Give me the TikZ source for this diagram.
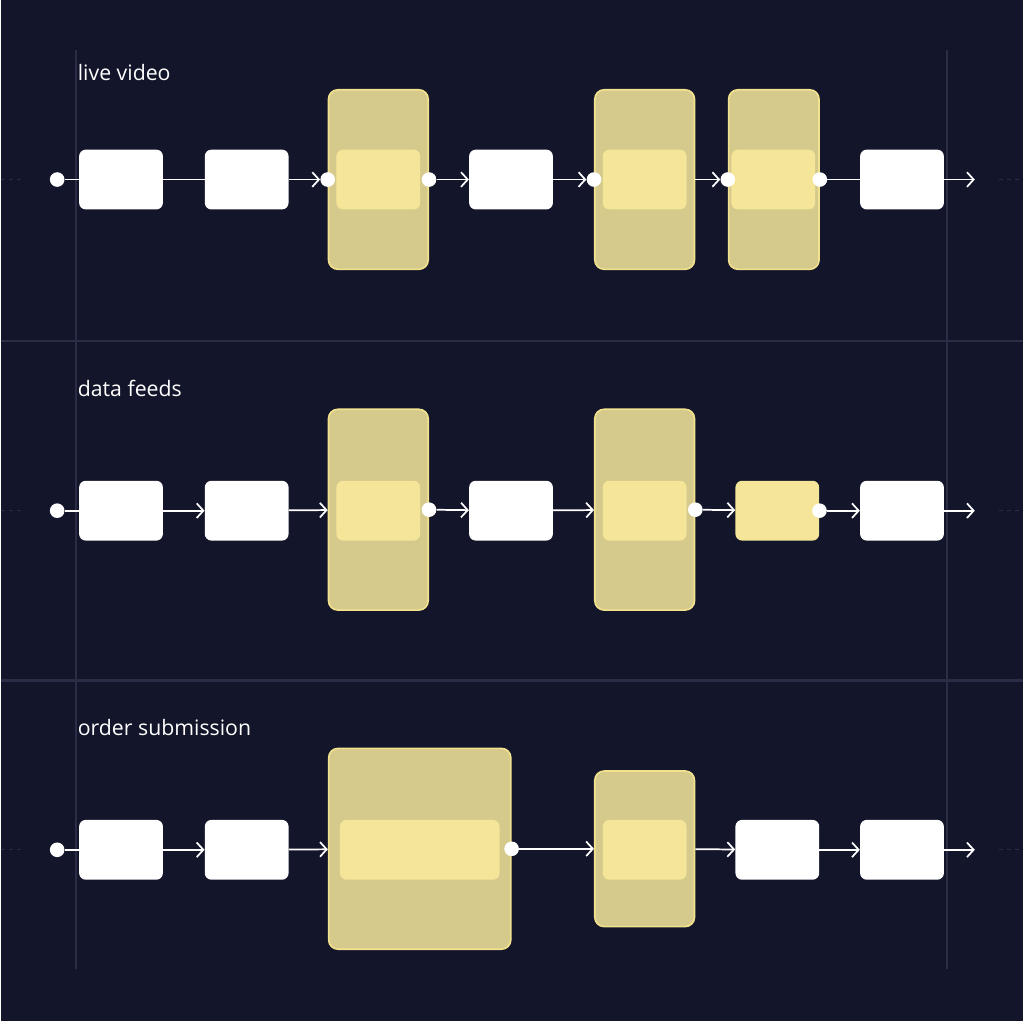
\documentclass[tikz,border=0pt]{standalone}
\usepackage{fontspec}
\setmainfont{Open Sans}
\usetikzlibrary{arrows.meta}
\definecolor{night}{HTML}{13152A}
\definecolor{rule}{HTML}{2A2D45}
\definecolor{sand}{HTML}{D5CA8C}
\definecolor{sandline}{HTML}{F2E28E}
\definecolor{butter}{HTML}{F4E598}
\tikzset{
    wbox/.style={fill=white, rounded corners=5pt, minimum width=63pt, minimum height=45pt, inner sep=0pt},
    ybox/.style={wbox, fill=butter},
    wrap/.style={fill=sand, draw=sandline, line width=1.2pt, rounded corners=7pt, inner sep=0pt},
    dot/.style={circle, fill=white, minimum size=11pt, inner sep=0pt},
    flow/.style={white, line width=1.3pt, -{Straight Barb[length=5pt,width=11pt]}},
    plain/.style={white, line width=1.3pt},
    lane/.style={white, font=\fontsize{16}{19}\selectfont, anchor=west}
}
\begin{document}
\begin{tikzpicture}[x=0.75pt,y=-0.75pt]
    \fill[night] (0,0) rectangle (1024,1024);
    % lanes and guides
    \draw[rule, line width=2pt] (0,342) -- (1024,342) (0,682) -- (1024,682);
    \draw[rule, line width=1pt] (75,50) -- (75,972) (948,50) -- (948,972);
    \foreach \y in {180,512,852} {
        \draw[rule, dashed, line width=1pt] (0,\y) -- (22,\y) (1000,\y) -- (1024,\y);
    }
    \node[lane] (lbl1) at (72,73) {live video};
    \node[lane] (lbl2) at (72,389) {data feeds};
    \node[lane] (lbl3) at (72,729) {order submission};

    % live video
    \node[wrap, minimum width=75pt, minimum height=135pt] (aw1) at (378,180) {};
    \node[wrap, minimum width=75pt, minimum height=135pt] (aw2) at (645,180) {};
    \node[wrap, minimum width=68pt, minimum height=135pt] (aw3) at (774.5,180) {};
    \node[wbox] (a1) at (120,180) {};
    \node[wbox] (a2) at (246,180) {};
    \node[ybox] (a3) at (378,180) {};
    \node[wbox] (a4) at (511,180) {};
    \node[ybox] (a5) at (645,180) {};
    \node[ybox] (a6) at (774,180) {};
    \node[wbox] (a7) at (903,180) {};
    \coordinate (aend) at (976,180);
    \node[dot] (ad0) at (56,180) {};
    \node[dot] (ad1) at (aw1.west) {};
    \node[dot] (ad2) at (aw1.east) {};
    \node[dot] (ad3) at (aw2.west) {};
    \node[dot] (ad4) at (aw3.west) {};
    \node[dot] (ad5) at (aw3.east) {};
    \draw[plain] (ad0) -- (a1);
    \draw[plain] (a1) -- (a2);
    \draw[flow] (a2) -- (ad1);
    \draw[flow] (ad2) -- (a4);
    \draw[flow] (a4) -- (ad3);
    \draw[flow] (aw2) -- (ad4);
    \draw[plain] (ad5) -- (a7);
    \draw[flow] (a7) -- (aend);

    % data feeds
    \node[wrap, minimum width=75pt, minimum height=151pt] (bw1) at (378,511) {};
    \node[wrap, minimum width=75pt, minimum height=151pt] (bw2) at (645,511) {};
    \node[wbox] (b1) at (120,512) {};
    \node[wbox] (b2) at (246,512) {};
    \node[ybox] (b3) at (378,512) {};
    \node[wbox] (b4) at (511,512) {};
    \node[ybox] (b5) at (645,512) {};
    \node[ybox] (b6) at (778,512) {};
    \node[wbox] (b7) at (903,512) {};
    \coordinate (bend) at (976,512);
    \node[dot] (bd0) at (56,512) {};
    \node[dot] (bd1) at (bw1.east) {};
    \node[dot] (bd2) at (bw2.east) {};
    \node[dot] (bd3) at (b6.east) {};
    \draw[plain] (bd0) -- (b1);
    \draw[flow] (b1) -- (b2);
    \draw[flow] (b2) -- (bw1);
    \draw[flow] (bd1) -- (b4);
    \draw[flow] (b4) -- (bw2);
    \draw[flow] (bd2) -- (b6);
    \draw[flow] (bd3) -- (b7);
    \draw[flow] (b7) -- (bend);

    % order submission
    \node[wrap, minimum width=137pt, minimum height=151pt] (cw1) at (419.5,851) {};
    \node[wrap, minimum width=75pt, minimum height=117pt] (cw2) at (645,851) {};
    \node[wbox] (c1) at (120,852) {};
    \node[wbox] (c2) at (246,852) {};
    \node[ybox, minimum width=120pt] (c3) at (419.5,852) {};
    \node[ybox] (c4) at (645,852) {};
    \node[wbox] (c5) at (778,852) {};
    \node[wbox] (c6) at (903,852) {};
    \coordinate (cend) at (976,852);
    \node[dot] (cd0) at (56,852) {};
    \node[dot] (cd1) at (cw1.east) {};
    \draw[plain] (cd0) -- (c1);
    \draw[flow] (c1) -- (c2);
    \draw[flow] (c2) -- (cw1);
    \draw[flow] (cd1) -- (cw2);
    \draw[flow] (cw2) -- (c5);
    \draw[flow] (c5) -- (c6);
    \draw[flow] (c6) -- (cend);
\end{tikzpicture}
\end{document}
